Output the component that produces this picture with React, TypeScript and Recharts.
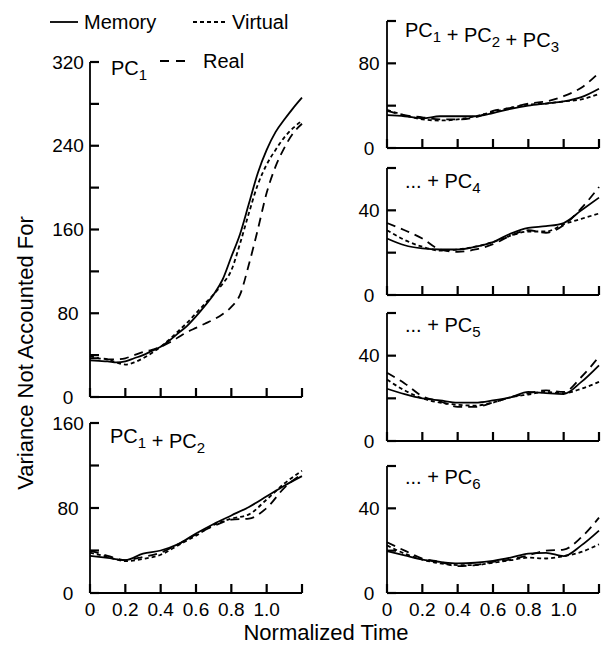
import { LineChart, Line, XAxis, YAxis } from "recharts"

// time grid (normalized time)
const timesFine = [0, 0.05, 0.1, 0.15, 0.2, 0.25, 0.3, 0.35, 0.4, 0.45, 0.5, 0.55, 0.6, 0.65, 0.7, 0.75, 0.8, 0.85, 0.9, 0.95, 1.0, 1.05, 1.1, 1.15, 1.2]
const times = [0, 0.1, 0.2, 0.3, 0.4, 0.5, 0.6, 0.7, 0.8, 0.9, 1.0, 1.1, 1.2]
const xTicks = [0, 0.2, 0.4, 0.6, 0.8, 1.0, 1.2]

// PC1
const pc1Memory = [35, 34.5, 34, 33, 34, 37, 40, 44, 48, 54, 61, 68, 77, 87, 98, 112, 134, 156, 185, 214, 236, 253, 265, 276, 286]
const pc1Virtual = [39, 37, 36, 33, 31, 33, 37, 42, 48, 55, 63, 71, 80, 89, 98, 108, 121, 147, 176, 203, 222, 236, 248, 257, 264]
const pc1Real = [37, 37, 36, 36, 37, 40, 43, 45, 48, 52, 57, 62, 66, 70, 74, 79, 86, 98, 127, 160, 195, 220, 238, 252, 261]

// PC1 + PC2
const pc2Memory = [35, 33, 31, 37, 40, 46, 56, 65, 73, 81, 91, 101, 110]
const pc2Virtual = [38, 34, 30, 32, 36, 45, 54, 64, 70, 74, 88, 103, 115]
const pc2Real = [40, 35, 31, 34, 38, 46, 55, 63, 69, 70, 80, 99, 112]

// PC1 + PC2 + PC3
const pc3Memory = [31, 30, 28, 30, 30, 30, 33, 37, 40, 42, 44, 48, 56]
const pc3Virtual = [36, 31, 27, 26, 27, 30, 34, 38, 41, 42, 44, 46, 51]
const pc3Real = [35, 31, 29, 27, 27, 29, 35, 38, 42, 44, 49, 57, 71]

// ... + PC4
const pc4Memory = [26.7, 23.5, 22, 21.5, 21.5, 22.8, 25, 29, 31.7, 32.5, 34, 40, 46]
const pc4Virtual = [30.6, 26, 22.8, 21, 21.5, 22.8, 25, 28, 30, 30, 33.4, 36, 38.5]
const pc4Real = [34, 30.6, 26.7, 21.5, 20.4, 21.5, 24, 28, 30.6, 29.4, 33, 41, 51]

// ... + PC5
const pc5Memory = [24.5, 22, 20, 19, 18, 18, 19, 20.5, 23, 22.4, 22, 27.7, 35.5]
const pc5Virtual = [28.8, 23.7, 20, 18, 17, 16.6, 18, 20.5, 21.8, 23, 22.4, 24.5, 27.7]
const pc5Real = [32, 27, 21, 18.6, 16, 16, 18, 20.5, 22.4, 23.7, 23, 30, 39.5]

// ... + PC6
const pc6Memory = [19.8, 17.8, 15.8, 14.7, 14, 14.3, 15.2, 16.7, 18.6, 19, 17.4, 22.5, 29.5]
const pc6Virtual = [22.5, 18.6, 15.8, 14, 13.2, 13.2, 14.3, 15.5, 16.7, 16.3, 17.4, 19.4, 23]
const pc6Real = [24, 20, 16.3, 14.7, 12.7, 13.2, 14.7, 15.8, 17.8, 20, 20.5, 26.3, 35.6]

const FONT = '"Liberation Sans", Arial, Helvetica, sans-serif'
const AXIS = { stroke: "#000", strokeWidth: 1.8 }
const TICK_LINE = { stroke: "#000", strokeWidth: 2.2 }
const TICK = 9 // inward tick length (negative tickSize)

type PanelProps = {
  left: number
  top: number
  plotWidth: number
  plotHeight: number
  xs: number[]
  memory: number[]
  virtual: number[]
  real: number[]
  yMax: number
  yTicks: number[]
  labelEvery: number
  labelOffset: number
  showXLabels: boolean
}

function Panel(p: PanelProps) {
  const data = p.xs.map((t, i) => ({
    t,
    memory: p.memory[i],
    virtual: p.virtual[i],
    real: p.real[i],
  }))
  const margin = { top: 14, right: 6, bottom: 2, left: 0 }
  const yW = 50
  const xH = 30
  const fmtX = (v: number) => (!p.showXLabels || v > 1.1 ? "" : v === 0 ? "0" : v.toFixed(1))
  const fmtY = (v: number) => (v % p.labelEvery === 0 ? String(v) : "")
  return (
    <div style={{ position: "absolute", left: p.left - yW, top: p.top - margin.top }}>
      <LineChart
        width={yW + p.plotWidth + margin.right}
        height={margin.top + p.plotHeight + xH + margin.bottom}
        data={data}
        margin={margin}
      >
        <Line
          type="monotone"
          dataKey="real"
          stroke="#000"
          strokeWidth={1.8}
          strokeDasharray="9 6"
          dot={false}
          isAnimationActive={false}
        />
        <Line
          type="monotone"
          dataKey="virtual"
          stroke="#000"
          strokeWidth={1.8}
          strokeDasharray="4 3"
          dot={false}
          isAnimationActive={false}
        />
        <Line
          type="monotone"
          dataKey="memory"
          stroke="#000"
          strokeWidth={1.8}
          dot={false}
          isAnimationActive={false}
        />
        <XAxis
          dataKey="t"
          type="number"
          domain={[0, 1.2]}
          ticks={xTicks}
          interval={0}
          height={xH}
          tickSize={-TICK}
          tickMargin={TICK + 9.5}
          tickLine={TICK_LINE}
          axisLine={AXIS}
          tickFormatter={fmtX}
          tick={{ fontSize: 19, fill: "#000" }}
        />
        <YAxis
          type="number"
          domain={[0, p.yMax]}
          ticks={p.yTicks}
          interval={0}
          width={yW}
          tickSize={-TICK}
          tickMargin={TICK + p.labelOffset}
          tickLine={TICK_LINE}
          axisLine={AXIS}
          tickFormatter={fmtY}
          tick={{ fontSize: 19, fill: "#000", textAnchor: "middle" }}
        />
      </LineChart>
    </div>
  )
}

function Title({ x, y, parts }: { x: number; y: number; parts: [string, string?][] }) {
  // each part: text followed by an optional subscript
  return (
    <text x={x} y={y} fontSize={20} fill="#000">
      {parts.map(([txt, sub], i) => (
        <tspan key={i}>
          <tspan>{txt}</tspan>
          {sub && (
            <>
              <tspan fontSize={15} dy={5}>{sub}</tspan>
              <tspan dy={-5}></tspan>
            </>
          )}
        </tspan>
      ))}
    </text>
  )
}

export default function App() {
  const leftW = 212
  const rightW = 212
  return (
    <div
      style={{
        position: "absolute",
        left: 0,
        top: 0,
        width: 608,
        height: 646,
        background: "#fff",
        fontFamily: FONT,
      }}
    >
      {/* text layer sits underneath the charts */}
      <svg
        width={608}
        height={646}
        style={{ position: "absolute", left: 0, top: 0, pointerEvents: "none" }}
      >
        {/* legend */}
        <line x1={50} x2={78} y1={22} y2={22} stroke="#000" strokeWidth={1.8} />
        <text x={84} y={29} fontSize={20} fill="#000">Memory</text>
        <line x1={193} x2={225} y1={22} y2={22} stroke="#000" strokeWidth={1.8} strokeDasharray="4 3" />
        <text x={232} y={29} fontSize={20} fill="#000">Virtual</text>
        <line x1={160} x2={190} y1={61} y2={61} stroke="#000" strokeWidth={1.8} strokeDasharray="9 7" />
        <text x={203} y={68} fontSize={20} fill="#000">Real</text>

        {/* panel titles */}
        <Title x={111} y={75} parts={[["PC", "1"]]} />
        <Title x={110} y={443} parts={[["PC", "1"], [" + PC", "2"]]} />
        <Title x={405} y={37} parts={[["PC", "1"], [" + PC", "2"], [" + PC", "3"]]} />
        <Title x={405} y={188} parts={[["... + PC", "4"]]} />
        <Title x={405} y={332} parts={[["... + PC", "5"]]} />
        <Title x={405} y={484} parts={[["... + PC", "6"]]} />

        {/* axis titles */}
        <text x={326} y={640} fontSize={22} textAnchor="middle" fill="#000">Normalized Time</text>
        <text
          x={0}
          y={0}
          fontSize={22}
          textAnchor="middle"
          fill="#000"
          transform="translate(33 353) rotate(-90)"
        >
          Variance Not Accounted For
        </text>
      </svg>

      <Panel left={90} top={62} plotWidth={leftW} plotHeight={335} xs={timesFine}
        memory={pc1Memory} virtual={pc1Virtual} real={pc1Real}
        yMax={320} yTicks={[0, 40, 80, 120, 160, 200, 240, 280, 320]} labelEvery={80} labelOffset={22} showXLabels={false} />
      <Panel left={90} top={423} plotWidth={leftW} plotHeight={170} xs={times}
        memory={pc2Memory} virtual={pc2Virtual} real={pc2Real}
        yMax={160} yTicks={[0, 40, 80, 120, 160]} labelEvery={80} labelOffset={22} showXLabels={true} />
      <Panel left={387} top={21} plotWidth={rightW} plotHeight={127} xs={times}
        memory={pc3Memory} virtual={pc3Virtual} real={pc3Real}
        yMax={120} yTicks={[0, 40, 80, 120]} labelEvery={80} labelOffset={18} showXLabels={false} />
      <Panel left={387} top={168} plotWidth={rightW} plotHeight={127} xs={times}
        memory={pc4Memory} virtual={pc4Virtual} real={pc4Real}
        yMax={60} yTicks={[0, 20, 40, 60]} labelEvery={40} labelOffset={18} showXLabels={false} />
      <Panel left={387} top={313} plotWidth={rightW} plotHeight={128} xs={times}
        memory={pc5Memory} virtual={pc5Virtual} real={pc5Real}
        yMax={60} yTicks={[0, 20, 40, 60]} labelEvery={40} labelOffset={18} showXLabels={false} />
      <Panel left={387} top={466} plotWidth={rightW} plotHeight={127} xs={times}
        memory={pc6Memory} virtual={pc6Virtual} real={pc6Real}
        yMax={60} yTicks={[0, 20, 40, 60]} labelEvery={40} labelOffset={18} showXLabels={true} />
    </div>
  )
}
